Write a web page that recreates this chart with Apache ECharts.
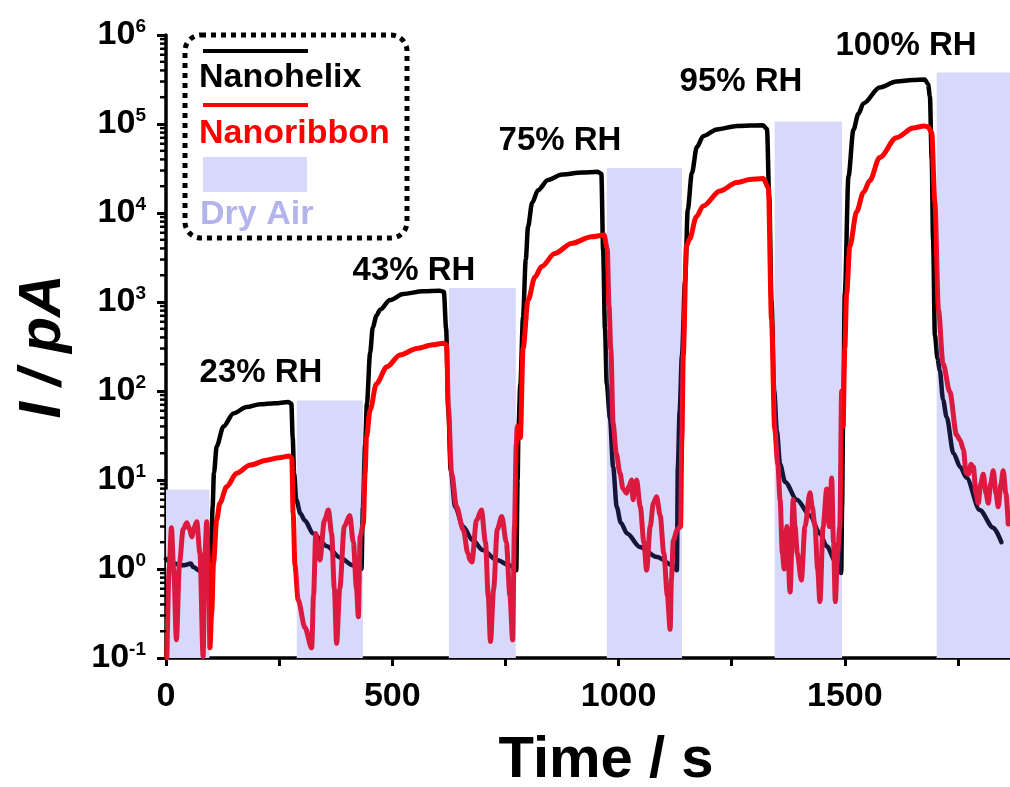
<!DOCTYPE html>
<html><head><meta charset="utf-8">
<script src="https://cdn.jsdelivr.net/npm/echarts@6/dist/echarts.min.js"></script>
<style>html,body{margin:0;padding:0;background:#fff}#c{width:1010px;height:787px}</style>
</head><body><div id="c"></div>
<script>
const FONT = "'Liberation Sans', Arial, Helvetica, sans-serif";

// Dry-air purge intervals (s) and the height of their shading (pA)
const dryStart = [0, 289, 625, 974, 1345, 1703];
const dryEnd   = [96, 435, 773, 1140, 1494, 1900];
const dryTop   = [7.8, 78, 1440, 32000, 107000, 380000];

// RH annotations
const rhLabels = ['23% RH', '43% RH', '75% RH', '95% RH', '100% RH'];

// Nanohelix current [time s, I pA]
const nanohelix = [
 [0,1.3],[16,1.15],[40,1.1],[55,1.15],[60,1.05],[75,0.95],[97,0.95],
 [100,1.5],[103,5],[106,12],[112,24],[127,40],[149,56],[178,66],[208,71],[240,73],[270,75],[277,72],
 [280,30],[283,12],[288,6],[297,4.2],[307,3.5],[325,2.5],[356,1.8],[384,1.35],[413,1.1],[432,1.0],
 [435,5],[440,25],[444,73],[451,267],[457,520],[465,700],[473,820],[495,1050],[524,1230],[568,1320],[605,1340],[614,1300],
 [619,500],[624,60],[629,13],[639,5],[656,3],[678,2.1],[700,1.63],[731,1.26],[760,1.1],[774,0.97],
 [777,10],[779,40],[783,120],[789,680],[795,3000],[800,7000],[809,13000],[822,18000],[844,23500],[875,27000],[919,28500],[954,29000],[962,27500],
 [966,3800],[970,500],[974,120],[981,50],[988,14],[996,5],[1005,3.3],[1019,2.5],[1047,1.77],[1085,1.36],[1120,1.1],[1129,0.97],
 [1131,14],[1135,60],[1140,250],[1147,1700],[1153,11000],[1162,28000],[1173,55000],[1187,73000],[1217,87000],[1262,95000],[1319,97000],[1328,88000],
 [1333,15000],[1338,1000],[1344,100],[1350,35],[1357,15],[1368,9.5],[1394,6],[1423,4],[1445,2.5],[1460,1.8],[1480,1.2],[1492,0.9],
 [1494,5],[1496,40],[1500,1250],[1508,25600],[1519,86000],[1530,130000],[1541,170000],[1577,257000],[1614,300000],[1650,312000],[1677,316000],[1684,280000],
 [1688,205000],[1692,40000],[1695,5100],[1699,425],[1705,230],[1710,170],[1717,80],[1725,51],[1740,20],[1755,14],[1769,10.6],[1798,4.6],[1828,2.9],[1846,2.0]
];

// Nanoribbon current [time s, I pA]
const nanoribbon = [
 [2,0.1],[7,1],[12,2.9],[17,1],[23,0.16],[30,1.2],[38,2.8],[46,3.3],[52,2.8],[57,2.3],[62,2.9],[68,3.4],[75,1.5],[82,0.104],[86,1.5],[90,3.4],[94,1.2],[97,0.13],[101,0.32],
 [105,1.16],[112,3.55],[119,5.5],[134,8.4],[156,11.9],[186,14.7],[222,16.7],[250,17.8],[272,18.6],[278,17.5],
 [281,4.2],[285,1.1],[292,0.45],[307,0.22],[322,0.13],[326,0.5],[331,2.5],[336,1.5],[340,1.26],[350,3.5],[359,4.6],[366,2.5],[372,0.6],[377,0.146],[384,0.6],[394,3],[406,4.0],[414,2],[421,0.6],[425,0.29],[429,2.3],[436,3.2],
 [440,12],[443,30],[451,61],[465,121],[488,187],[517,254],[554,300],[590,330],[613,344],[620,330],
 [624,66],[631,12],[642,5],[657,2.74],[667,1.5],[672,1.26],[676,1.2],[686,3.5],[697,4.6],[706,2],[712,0.5],[717,0.153],[724,0.6],[732,2.8],[742,3.9],[752,2],[760,0.5],[766,0.16],
 [770,3],[774,25],[776,40],[783,30],[789,300],[800,1050],[815,1900],[830,2500],[859,3500],[896,4550],[940,5400],[968,5650],
 [975,4000],[979,900],[983,290],[988,43],[995,20],[1003,12],[1010,8],[1018,7.1],[1023,8.5],[1029,10],[1032,6],[1036,8.5],[1040,10],[1048,5],[1056,2],[1062,0.97],[1070,3],[1077,5.5],[1084,6.5],[1092,4],[1100,1.5],[1108,0.5],[1114,0.21],[1117,0.8],[1121,2.1],[1130,2.8],[1137,3],
 [1140,30],[1143,250],[1150,4250],[1157,5100],[1172,9100],[1187,12000],[1224,17700],[1261,22000],[1290,23800],[1320,24400],[1331,19200],
 [1338,640],[1345,38],[1352,15],[1357,6],[1362,1.5],[1366,1.0],[1372,3],[1379,0.55],[1386,6],[1390,3],[1395,1.5],[1404,0.75],[1412,3],[1423,7.2],[1428,5],[1434,3],[1440,1],[1445,0.43],[1452,3],[1460,7.9],[1466,3],[1471,10.5],[1475,2],[1479,0.43],[1484,1.5],[1489,3],[1493,100],[1496,40],
 [1500,300],[1504,1240],[1511,4200],[1526,10300],[1541,17000],[1555,23000],[1577,42000],[1614,70000],[1651,90000],[1675,95000],[1684,93000],[1692,80000],
 [1699,13000],[1707,810],[1717,203],[1732,98],[1747,32],[1755,28],[1762,22],[1768,12],[1773,11.6],[1779,15],[1784,14],[1790,7],[1795,5.5],[1800,9],[1806,11.6],[1812,7],[1817,5.5],[1822,9],[1828,12.7],[1834,7],[1839,5],[1845,9],[1850,12.7],[1856,7],[1861,3.2]
];

// log-axis minor tick positions (2..9 x 10^k)
const minorTicks = [];
for (let k = -1; k < 6; k++) for (let m = 2; m <= 9; m++) minorTicks.push([0, m * Math.pow(10, k)]);

const chart = echarts.init(document.getElementById('c'), null, {renderer: 'canvas'});

const dryPieces = (color) => dryStart.map((s, i) => ({gte: s, lt: dryEnd[i], color}));

const rhPos = [[261, 373], [414, 271], [560, 141], [741, 82], [906, 46]];

chart.setOption({
  animation: false,
  backgroundColor: '#fff',
  grid: {left: 166, right: 0, top: 35, bottom: 129, containLabel: false, outerBoundsMode: 'none'},
  xAxis: {
    type: 'value', min: 0, max: 1865, interval: 250,
    axisLine: {show: true, lineStyle: {color: '#000', width: 3.5}},
    axisTick: {show: true, length: 8, lineStyle: {color: '#000', width: 3}},
    splitLine: {show: false},
    axisLabel: {
      showMaxLabel: false, margin: 22, color: '#000', fontSize: 34, fontWeight: 'bold', fontFamily: FONT,
      formatter: v => (v % 500 === 0 ? String(v) : '')
    },
    name: 'Time / s', nameLocation: 'middle', nameGap: 74,
    nameTextStyle: {fontSize: 58, fontWeight: 'bold', color: '#000', fontFamily: FONT, padding: [0, 0, 0, 36]}
  },
  yAxis: {
    type: 'log', logBase: 10, min: 0.1, max: 1e6, splitNumber: 7,
    axisLine: {show: true, onZero: false, lineStyle: {color: '#000', width: 3.5}},
    axisTick: {show: true, length: 9, lineStyle: {color: '#000', width: 3}},
    splitLine: {show: false},
    axisLabel: {
      margin: 20, color: '#000', fontFamily: FONT,
      formatter: v => '{b|10}{s|' + Math.round(Math.log10(v)) + '}',
      rich: {
        b: {fontSize: 34, fontWeight: 'bold', fontFamily: FONT, color: '#000', lineHeight: 36, verticalAlign: 'middle'},
        s: {fontSize: 19, fontWeight: 'bold', fontFamily: FONT, color: '#000', lineHeight: 20, verticalAlign: 'top'}
      }
    },
    name: 'I / pA', nameLocation: 'middle', nameGap: 93,
    nameTextStyle: {fontSize: 59, fontWeight: 'bold', fontStyle: 'italic', color: '#000', fontFamily: FONT}
  },
  visualMap: [
    {type: 'piecewise', show: false, seriesIndex: 1, dimension: 0, pieces: dryPieces('#151538'), outOfRange: {color: '#000000'}},
    {type: 'piecewise', show: false, seriesIndex: 2, dimension: 0, pieces: dryPieces('#dc1a40'), outOfRange: {color: '#ff0000'}}
  ],
  series: [
    {
      type: 'custom', name: 'Dry Air', z: 1, silent: true,
      data: dryStart.map((s, i) => [s, dryEnd[i], dryTop[i]]),
      encode: {x: [0, 1], y: 2},
      renderItem(params, api) {
        const p1 = api.coord([api.value(0), api.value(2)]);
        const p2 = api.coord([api.value(1), 0.1]);
        const cs = params.coordSys;
        const r = echarts.graphic.clipRectByRect(
          {x: p1[0], y: p1[1], width: p2[0] - p1[0], height: p2[1] - p1[1]},
          {x: cs.x, y: cs.y, width: cs.width, height: cs.height});
        return r ? {type: 'rect', shape: r, style: {fill: '#d8d8fa'}} : null;
      }
    },
    {
      type: 'line', name: 'Nanohelix', data: nanohelix, z: 3,
      showSymbol: false, symbol: 'none', smooth: 0.3, smoothMonotone: 'x',
      lineStyle: {width: 4.5, cap: 'round', join: 'round'}
    },
    {
      type: 'line', name: 'Nanoribbon', data: nanoribbon, z: 4,
      showSymbol: false, symbol: 'none', smooth: 0.3, smoothMonotone: 'x',
      lineStyle: {width: 5, cap: 'round', join: 'round'}
    },
    {
      type: 'custom', name: 'minorTicks', z: 5, silent: true, clip: false,
      data: minorTicks, encode: {x: 0, y: 1},
      renderItem(params, api) {
        const p = api.coord([0, api.value(1)]);
        const x0 = params.coordSys.x;
        return {type: 'line', shape: {x1: x0 - 6, y1: p[1], x2: x0, y2: p[1]}, style: {stroke: '#000', lineWidth: 2.5}};
      }
    }
  ],
  graphic: [
    {type: 'rect', z: 100, shape: {x: 185, y: 35, width: 222, height: 203, r: 16},
     style: {fill: 'rgba(255,255,255,0)', stroke: '#000', lineWidth: 5, lineDash: [5, 5]}},
    {type: 'line', z: 100, shape: {x1: 203, y1: 51, x2: 308, y2: 51}, style: {stroke: '#000', lineWidth: 4}},
    {type: 'text', z: 100, x: 199, y: 78, style: {text: 'Nanohelix', fill: '#000', font: 'bold 34px ' + FONT, align: 'left', verticalAlign: 'middle'}},
    {type: 'line', z: 100, shape: {x1: 203, y1: 105, x2: 308, y2: 105}, style: {stroke: '#ff0000', lineWidth: 4}},
    {type: 'text', z: 100, x: 199, y: 134, style: {text: 'Nanoribbon', fill: '#ff0000', font: 'bold 34px ' + FONT, align: 'left', verticalAlign: 'middle'}},
    {type: 'rect', z: 100, shape: {x: 203, y: 157, width: 104, height: 35}, style: {fill: '#d8d8fa'}},
    {type: 'text', z: 100, x: 200, y: 215, style: {text: 'Dry Air', fill: '#b4b4ec', font: 'bold 34px ' + FONT, align: 'left', verticalAlign: 'middle'}}
  ].concat(rhLabels.map((t, i) => ({
    type: 'text', z: 100, x: rhPos[i][0], y: rhPos[i][1],
    style: {text: t, fill: '#000', font: 'bold 33px ' + FONT, align: 'center', verticalAlign: 'middle'}
  })))
});
</script></body></html>
